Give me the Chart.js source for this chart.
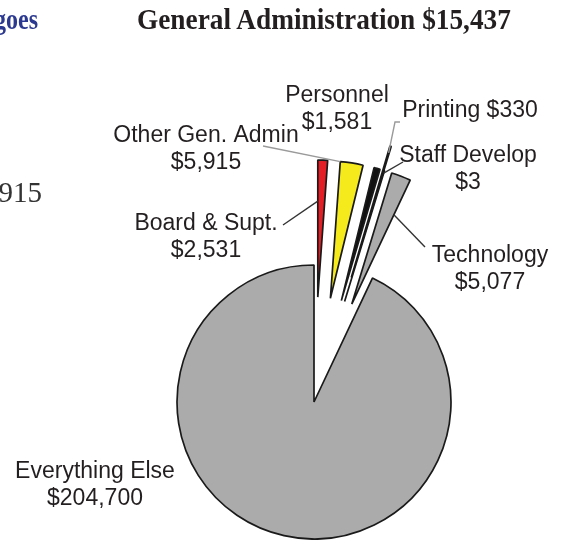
<!DOCTYPE html>
<html lang="en">
<head>
<meta charset="UTF-8">
<title>General Administration $15,437</title>
<script src="https://cdn.jsdelivr.net/npm/chart.js"></script>
<style>
  html, body { margin: 0; padding: 0; background: #fff; }
  #wrap { position: relative; width: 585px; height: 540px; overflow: hidden; }
  #chart { position: absolute; left: 0; top: 0; }
  .head { position: absolute; font-family: 'Liberation Serif', 'Times New Roman', serif; line-height: 1; white-space: nowrap; }
  #title { left: 137px; top: 4px; font-size: 30px; font-weight: bold; color: #231f20; transform: scaleX(0.91); transform-origin: left top; }
  #cutLeft { right: 547px; top: 4px; font-size: 30px; font-weight: bold; color: #2b3990; transform: scaleX(0.8); transform-origin: right top; }
  #cutNum { right: 543px; top: 178px; font-size: 29px; color: #333; }
</style>
</head>
<body>
<div id="wrap">
  <canvas id="chart" width="585" height="540"></canvas>
  <div class="head" id="cutLeft">goes</div>
  <div class="head" id="title">General Administration $15,437</div>
  <div class="head" id="cutNum">915</div>
</div>
<script>
// data
const categories = ["Board & Supt.", "Other Gen. Admin", "Personnel", "Printing", "Staff Develop", "Technology", "Everything Else"];
const amounts = [2531, 5915, 1581, 330, 3, 5077, 204700];

// styles
const sliceColors = ["#e31e24", "#f4ea1c", "#111111", "#2e3a8f", "#ffffff", "#ababab", "#ababab"];
const explode = [420, 420, 420, 520, 420, 420, 0]; // chart.js offset (drawn shift = offset / 4)

const money = (v) => "$" + v.toLocaleString("en-US");

// label placement: centre x, first baseline y, one or two lines, optional leader line
const labelLayout = [
  { x: 206, y: 230, oneLine: false, leader: { from: [283, 225], edge: 0, r: 0.7, color: "#333" } },
  { x: 206, y: 142, oneLine: false, leader: { from: [263, 146], edge: 0, r: 1.0, color: "#9a9a9a" } },
  { x: 337, y: 102, oneLine: false, leader: null },
  { x: 470, y: 117, oneLine: true, leader: { from: [400, 122], via: [[395, 122]], edge: 0.5, r: 0.95, color: "#9a9a9a" } },
  { x: 468, y: 162, oneLine: false, leader: { from: [403, 162], edge: 0.5, r: 0.98, color: "#333" } },
  { x: 490, y: 262, oneLine: false, leader: { from: [425, 247], edge: 1, r: 0.72, color: "#333" } },
  { x: 95, y: 478, oneLine: false, leader: null }
];

// chart.js grows and narrows offset slices; keep them at the main radius and true angle
const explodeFix = {
  id: "explodeFix",
  beforeDatasetsDraw(chart) {
    const meta = chart.getDatasetMeta(0);
    const R = meta.controller.outerRadius;
    meta.data.forEach((arc) => {
      const off = (arc.options.offset || 0) / 4;
      if (!off) return;
      const c = arc.circumference;
      const ro = off * (1 - Math.sin(Math.min(Math.PI, c)));
      const mid = (arc.startAngle + arc.endAngle) / 2;
      const half = c / 2 + ro / (Math.PI * R) / 2;
      arc.outerRadius = R - ro;
      arc.startAngle = mid - half;
      arc.endAngle = mid + half;
    });
  }
};

const sliceLabels = {
  id: "sliceLabels",
  afterDatasetsDraw(chart) {
    const ctx = chart.ctx;
    const meta = chart.getDatasetMeta(0);
    const R = meta.controller.outerRadius;
    ctx.save();
    meta.data.forEach((arc, i) => {
      const lay = labelLayout[i];
      const ld = lay.leader;
      if (ld) {
        const off = (arc.options.offset || 0) / 4;
        const mid = (arc.startAngle + arc.endAngle) / 2;
        const ax = arc.x + Math.cos(mid) * off;
        const ay = arc.y + Math.sin(mid) * off;
        const th = mid - arc.circumference / 2 + ld.edge * arc.circumference;
        const tx = ax + Math.cos(th) * R * ld.r;
        const ty = ay + Math.sin(th) * R * ld.r;
        ctx.beginPath();
        ctx.strokeStyle = ld.color;
        ctx.lineWidth = 1.4;
        ctx.moveTo(ld.from[0], ld.from[1]);
        (ld.via || []).forEach((p) => ctx.lineTo(p[0], p[1]));
        ctx.lineTo(tx, ty);
        ctx.stroke();
      }
      ctx.fillStyle = "#231f20";
      ctx.font = "23px 'Liberation Sans', Arial, sans-serif";
      ctx.textAlign = "center";
      ctx.textBaseline = "alphabetic";
      if (lay.oneLine) {
        ctx.fillText(categories[i] + " " + money(amounts[i]), lay.x, lay.y);
      } else {
        ctx.fillText(categories[i], lay.x, lay.y);
        ctx.fillText(money(amounts[i]), lay.x, lay.y + 27);
      }
    });
    ctx.restore();
  }
};

new Chart(document.getElementById("chart"), {
  type: "pie",
  data: {
    labels: categories,
    datasets: [{
      data: amounts,
      backgroundColor: sliceColors,
      borderColor: "#1a1a1a",
      borderWidth: 1.7,
      offset: explode,
      hoverOffset: 0
    }]
  },
  options: {
    responsive: false,
    animation: false,
    events: [],
    radius: 137,
    cutout: "0%",
    layout: { padding: { left: 43, right: 0, top: 264, bottom: 0 } },
    plugins: {
      legend: { display: false },
      tooltip: { enabled: false },
      title: { display: false }
    }
  },
  plugins: [explodeFix, sliceLabels]
});
</script>
</body>
</html>
